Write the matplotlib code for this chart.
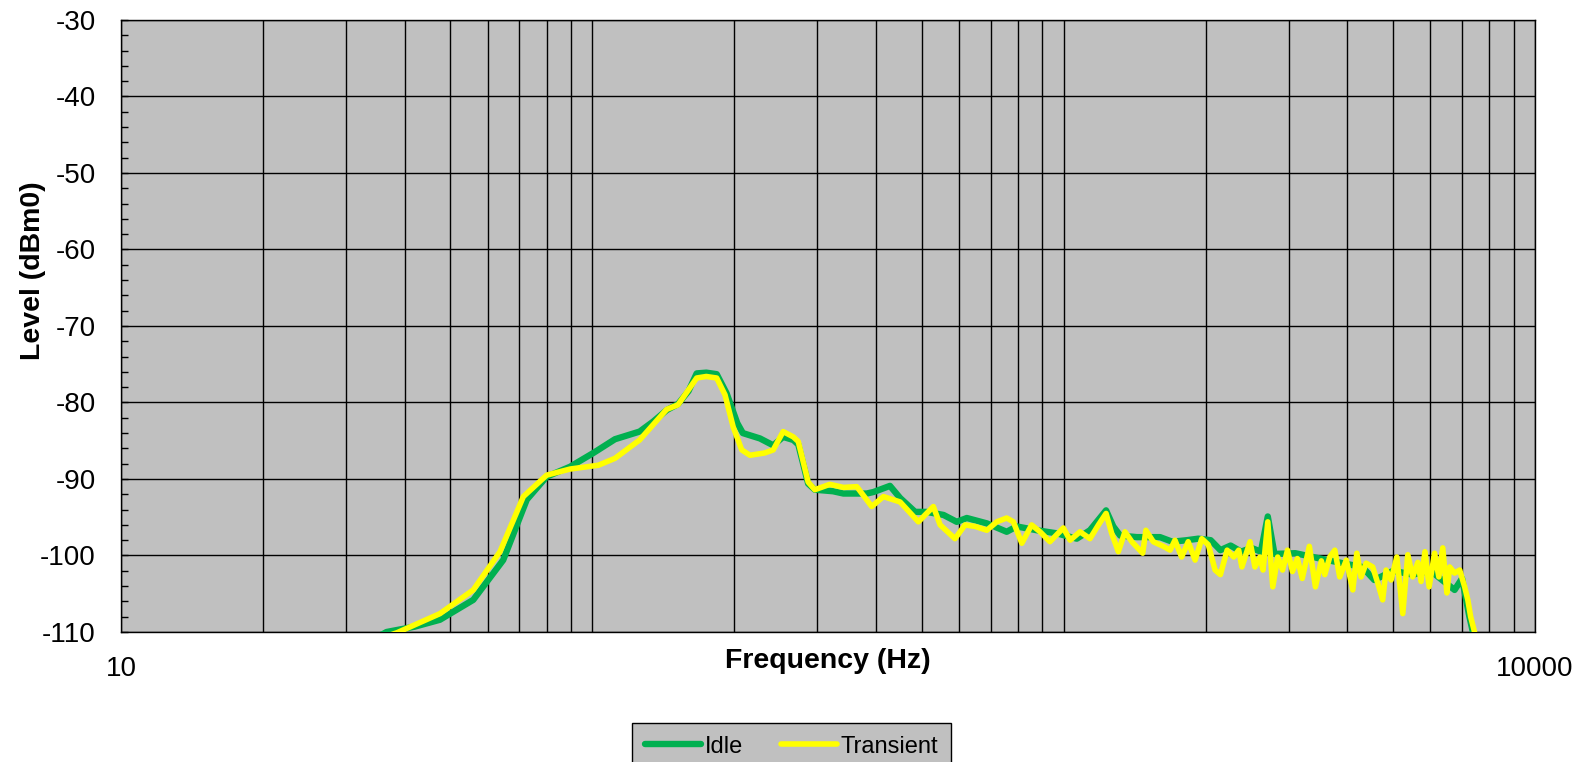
import numpy as np
import matplotlib
matplotlib.use("Agg")
import matplotlib.pyplot as plt
from matplotlib import ticker

plt.rcParams["font.family"] = ["Liberation Sans", "DejaVu Sans"]
plt.rcParams["axes.unicode_minus"] = False

# Idle spectrum (Hz, dBm0)
idle_freq = [
    30, 36.6, 42, 47.5, 55.9, 64.7, 72.6, 80, 89.7, 100.5,
    111.7, 126, 134.6, 143.8, 152, 160, 166.5, 174.5, 183.6, 192.7,
    203, 208.6, 226.8, 242, 254, 267, 273.5, 287, 296.5, 324,
    341, 352, 382, 395, 428, 450, 484, 512, 556, 593,
    623, 687, 757, 795, 877, 966, 1066, 1137, 1230, 1274,
    1318, 1430, 1601, 1700, 1825, 1930, 2050, 2150, 2260, 2380,
    2500, 2620, 2710, 2800, 3100, 3500, 3900, 4300, 4560, 5000,
    5500, 6000, 6750, 7000, 7250, 7380, 7450,
]
idle_level = [
    -113, -110, -109.3, -108.4, -105.8, -100.6, -92.7, -89.7, -88.4, -86.6,
    -84.8, -83.8, -82.5, -81.0, -80.2, -78.5, -76.2, -76.1, -76.3, -78.8,
    -82.7, -84.0, -84.7, -85.6, -84.5, -84.9, -85.5, -90.6, -91.4, -91.6,
    -91.9, -91.9, -91.9, -91.7, -90.9, -92.5, -94.3, -94.3, -94.7, -95.6,
    -95.1, -95.8, -96.9, -96.2, -96.7, -97.1, -97.8, -96.7, -94.1, -96.2,
    -97.4, -97.6, -97.6, -98.2, -98.0, -97.8, -98.0, -99.3, -98.7, -99.5,
    -99.0, -99.5, -94.9, -99.8, -99.7, -100.4, -101.0, -101.5, -103.2, -102.0,
    -102.5, -102.0, -104.5, -103.0, -107.9, -110, -112,
]

# Transient spectrum (Hz, dBm0)
trans_freq = [
    33, 38.5, 47.5, 55.9, 63.7, 71.4, 80, 89.7, 103, 111.7,
    126, 143.8, 152, 166.5, 174.5, 183.6, 191.2, 199, 207.5, 216,
    232, 242, 254, 267, 273.5, 287, 296.5, 319, 341, 364,
    391.5, 414.5, 449.7, 491.8, 529, 546.8, 588, 617.7, 648.6, 687,
    721, 757, 782, 815, 855, 891, 935, 998, 1032, 1083,
    1137, 1185, 1230, 1264, 1306, 1349, 1395, 1471, 1494, 1549,
    1627, 1682, 1722, 1779, 1837, 1900, 1963, 2027, 2095, 2150,
    2222, 2295, 2351, 2388, 2485, 2545, 2607, 2648, 2710, 2777,
    2844, 2913, 2984, 3057, 3131, 3207, 3320, 3420, 3520, 3580,
    3668, 3760, 3851, 3977, 4105, 4186, 4275, 4381, 4524, 4637,
    4750, 4830, 4950, 5090, 5240, 5370, 5500, 5640, 5730, 5840,
    5960, 6120, 6250, 6370, 6500, 6590, 6750, 6920, 7090, 7200,
    7300, 7440, 7500,
]
trans_level = [
    -111.5, -110.1, -107.6, -104.5, -99.5, -92.3, -89.5, -88.7, -88.2, -87.3,
    -84.9, -80.9, -80.3, -76.8, -76.6, -76.8, -79.0, -83.2, -86.2, -86.9,
    -86.6, -86.2, -83.8, -84.5, -85.1, -90.4, -91.4, -90.7, -91.1, -91.0,
    -93.6, -92.3, -93.0, -95.6, -93.6, -96.0, -97.8, -96.0, -96.2, -96.7,
    -95.6, -95.1, -95.6, -98.4, -96.0, -96.9, -98.2, -96.4, -98.0, -96.9,
    -97.8, -96.0, -94.5, -97.1, -99.5, -96.9, -98.2, -99.7, -96.7, -98.2,
    -98.8, -99.3, -98.0, -100.2, -98.2, -100.6, -97.8, -98.6, -101.9, -102.5,
    -99.3, -100.2, -99.3, -101.5, -98.2, -101.5, -100.2, -101.9, -95.6, -104.1,
    -100.2, -101.9, -99.3, -102.1, -100.4, -103.0, -98.8, -104.1, -100.7, -102.5,
    -100.2, -99.3, -102.8, -100.6, -104.5, -99.7, -102.8, -101.0, -101.5, -103.6,
    -105.8, -101.9, -103.2, -100.2, -107.6, -99.9, -102.8, -100.9, -103.4, -99.5,
    -104.1, -99.7, -102.8, -99.0, -104.9, -101.5, -102.3, -101.9, -104.1, -105.8,
    -108.0, -110, -112,
]

fig = plt.figure(figsize=(15.85, 7.62), dpi=100)
ax = fig.add_axes([0.0763, 0.1706, 0.8922, 0.8032])
ax.set_facecolor("#C0C0C0")

ax.plot(idle_freq, idle_level, color="#00B050", lw=4.6, label="Idle",
        solid_joinstyle="round", solid_capstyle="round", zorder=3)
ax.plot(trans_freq, trans_level, color="#FFFF00", lw=4.0, label="Transient",
        solid_joinstyle="round", solid_capstyle="round", zorder=4)

ax.set_xscale("log")
ax.set_xlim(10, 10000)
ax.set_ylim(-110, -30)

# x axis: only 10 and 10000 labelled, grid on every 1..9 x decade
ax.xaxis.set_major_locator(ticker.FixedLocator([10, 10000]))
ax.xaxis.set_major_formatter(ticker.FixedFormatter(["10", "10000"]))
ax.xaxis.set_minor_locator(ticker.LogLocator(base=10, subs=np.arange(1, 10), numticks=50))
ax.xaxis.set_minor_formatter(ticker.NullFormatter())
ax.tick_params(axis="x", which="both", length=0, pad=17.5, labelsize=20)

ax.yaxis.set_major_locator(ticker.MultipleLocator(10))
ax.yaxis.set_minor_locator(ticker.MultipleLocator(2))
ax.tick_params(axis="y", which="both", direction="in", length=5, width=1,
               pad=18, labelsize=20)

ax.grid(True, axis="x", which="both", color="black", lw=1.0)
ax.grid(True, axis="y", which="major", color="black", lw=1.0)
ax.set_axisbelow(True)
for s in ax.spines.values():
    s.set_color("black")
    s.set_linewidth(1.0)

ax.set_xlabel("Frequency (Hz)", fontsize=20.5, fontweight="bold")
ax.xaxis.set_label_coords(0.5, -0.026)
ax.set_ylabel("Level (dBm0)", fontsize=20.5, fontweight="bold")
ax.yaxis.set_label_coords(-0.053, 0.590)

leg = fig.legend(loc="upper center", bbox_to_anchor=(0.4994, 0.0516),
                 bbox_transform=fig.transFigure, ncol=2, frameon=True,
                 fancybox=False, edgecolor="black", facecolor="#C0C0C0",
                 framealpha=1, fontsize=17, handlelength=2.37,
                 handletextpad=0.17, columnspacing=1.6, borderaxespad=0,
                 borderpad=0.55)
leg.get_frame().set_linewidth(1.0)

fig.savefig("out.png", dpi=100)
